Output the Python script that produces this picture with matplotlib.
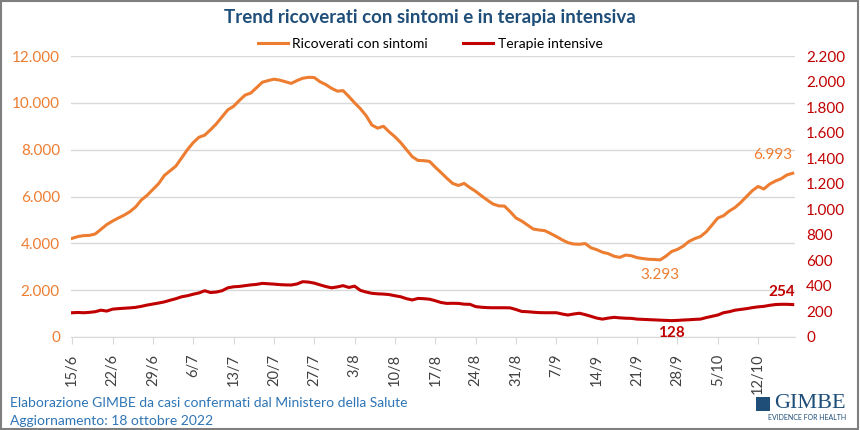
import numpy as np
import pandas as pd
import matplotlib
matplotlib.use('Agg')
import matplotlib.pyplot as plt
from matplotlib.patches import Rectangle

plt.rcParams['font.family'] = ['Lato', 'DejaVu Sans']

# dati giornalieri 15/6/2022 - 18/10/2022
giorni = pd.date_range('2022-06-15', '2022-10-18', freq='D')

ricoverati = [4215, 4290, 4330, 4340, 4400, 4600, 4800, 4950, 5080, 5200,
              5350, 5550, 5850, 6050, 6300, 6550, 6900, 7100, 7300, 7650,
              8000, 8300, 8530, 8620, 8850, 9100, 9400, 9700, 9850, 10100,
              10330, 10420, 10650, 10880, 10950, 11010, 10970, 10900, 10830, 10950,
              11050, 11090, 11080, 10900, 10780, 10620, 10500, 10520, 10270, 10000,
              9750, 9450, 9050, 8920, 9000, 8760, 8550, 8300, 8000, 7700,
              7540, 7530, 7500, 7250, 7020, 6780, 6560, 6470, 6560, 6380,
              6220, 6030, 5850, 5680, 5600, 5590, 5350, 5080, 4950, 4780,
              4610, 4570, 4540, 4420, 4290, 4150, 4030, 3970, 3960, 3990,
              3810, 3730, 3620, 3560, 3450, 3400, 3500, 3470, 3390, 3350,
              3320, 3310, 3293, 3450, 3650, 3740, 3880, 4080, 4200, 4290,
              4490, 4780, 5080, 5180, 5380, 5530, 5750, 6000, 6250, 6430,
              6320, 6530, 6660, 6760, 6920, 6993]

terapie = [190, 192, 190, 193, 198, 210, 203, 218, 222, 225,
           228, 232, 240, 250, 258, 266, 275, 288, 300, 315,
           323, 335, 345, 362, 348, 352, 362, 385, 393, 396,
           402, 408, 412, 420, 417, 414, 410, 408, 407, 415,
           433, 430, 422, 408, 395, 385, 392, 402, 388, 398,
           365, 352, 342, 338, 336, 332, 323, 315, 300, 290,
           302, 300, 296, 284, 270, 263, 264, 263, 257, 256,
           238, 233, 230, 229, 229, 229, 228, 215, 200, 198,
           194, 191, 190, 190, 190, 180, 172, 180, 186, 175,
           162, 148, 140, 148, 154, 150, 147, 146, 140, 138,
           136, 134, 132, 130, 128, 130, 133, 135, 138, 140,
           152, 162, 172, 190, 198, 210, 216, 222, 230, 236,
           240, 248, 254, 256, 256, 254]

arancio = '#ED7D31'
rosso = '#C00000'
blu = '#1F4E79'

fig = plt.figure(figsize=(8.6, 4.3), dpi=100)
ax = fig.add_axes([71/860, 1-337/430, (795-71)/860, (337-56)/430])
ax2 = ax.twinx()

x = np.arange(len(giorni))
ax.plot(x, ricoverati, color=arancio, lw=2.2, label='Ricoverati con sintomi')
ax2.plot(x, terapie, color=rosso, lw=2.2, label='Terapie intensive')

ax.set_ylim(0, 12000)
ax.set_yticks(range(0, 12001, 2000))
ax2.set_ylim(0, 2200)
ax2.set_yticks(range(0, 2201, 200))
fmt = lambda v: f'{int(v):,}'.replace(',', '.')
ax.set_yticklabels([fmt(v) for v in ax.get_yticks()], color=arancio, fontsize=11)
ax2.set_yticklabels([fmt(v) for v in ax2.get_yticks()], color=rosso, fontsize=11)
ax.set_xlim(-0.2, len(giorni) - 0.6)

tk = x[::7]
ax.set_xticks(tk)
ax.set_xticklabels([f'{d.day}/{d.month}' for d in giorni[::7]], rotation=90, fontsize=10.5, color='#404040')

ax.grid(axis='y', color='#D9D9D9', lw=1)
ax.set_axisbelow(True)
for a in (ax, ax2):
    for s in ['top', 'left', 'right']:
        a.spines[s].set_visible(False)
    a.tick_params(axis='y', length=0, pad=8)
ax2.spines['bottom'].set_visible(False)
ax.spines['bottom'].set_color('#D9D9D9')
ax.tick_params(axis='x', length=5, color='#D9D9D9', pad=7)

# etichette
ax.annotate('6.993', (x[-1], ricoverati[-1]), xytext=(0, 8), textcoords='offset points',
            ha='right', va='bottom', color=arancio, fontsize=11)
imin = int(np.argmin(ricoverati))
ax.annotate('3.293', (x[imin], ricoverati[imin]), xytext=(0, -6), textcoords='offset points',
            ha='center', va='top', color=arancio, fontsize=11)
ax2.annotate('254', (x[-1], terapie[-1]), xytext=(2, 4), textcoords='offset points',
             ha='right', va='bottom', color=rosso, fontsize=11, fontweight='bold')
jmin = int(np.argmin(terapie))
ax2.annotate('128', (x[jmin], terapie[jmin]), xytext=(0, -4), textcoords='offset points',
             ha='center', va='top', color=rosso, fontsize=11, fontweight='bold')

fig.text(0.5, 1-18/430, 'Trend ricoverati con sintomi e in terapia intensiva', ha='center', va='center',
         fontsize=13.5, fontweight='bold', color=blu)
h1, l1 = ax.get_legend_handles_labels()
h2, l2 = ax2.get_legend_handles_labels()
fig.legend(h1 + h2, l1 + l2, loc='center', bbox_to_anchor=(0.5, 1-44/430), ncol=2, frameon=False,
           fontsize=10, handlelength=2.2, handletextpad=0.3, columnspacing=2.5)

fig.text(10/860, 1-403/430, 'Elaborazione GIMBE da casi confermati dal Ministero della Salute',
         ha='left', va='center', fontsize=10, color='#2E75B6')
fig.text(10/860, 1-421/430, 'Aggiornamento: 18 ottobre 2022',
         ha='left', va='center', fontsize=10, color='#2E75B6')

# logo GIMBE
fig.patches.append(Rectangle((756/860, 1-411/430), 14/860, 14/430, transform=fig.transFigure,
                             facecolor='#1F4E79', edgecolor='none'))
fig.text(846/860, 1-403/430, 'GIMBE', ha='right', va='center', fontsize=16, color=blu,
         family=['Liberation Serif', 'DejaVu Serif'])
fig.text(846/860, 1-418/430, 'EVIDENCE FOR HEALTH', ha='right', va='center', fontsize=5, color=blu)

fig.patches.append(Rectangle((0.001, 0.002), 0.997, 0.995, transform=fig.transFigure,
                             facecolor='none', edgecolor='#7F7F7F', lw=1.5))

fig.savefig('out.png', dpi=100)
